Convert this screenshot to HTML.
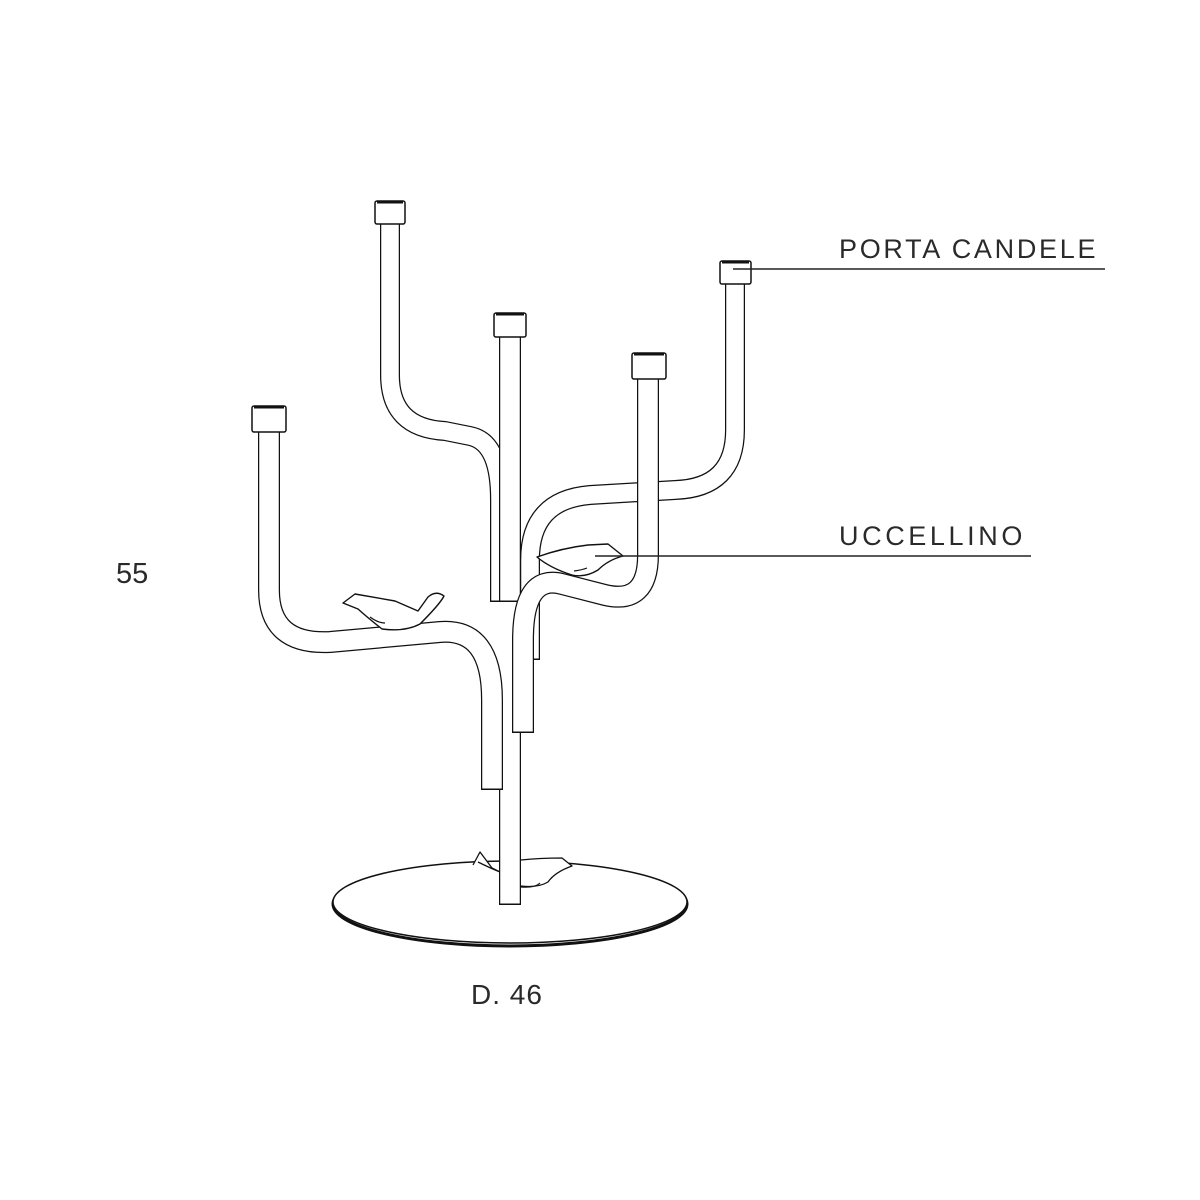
<!DOCTYPE html>
<html><head><meta charset="utf-8"><style>
html,body{margin:0;padding:0;background:#fff;}
svg{display:block;}
text{font-family:"Liberation Sans",sans-serif;fill:#2a2a2a;}
</style></head><body>
<svg width="1200" height="1200" viewBox="0 0 1200 1200" xmlns="http://www.w3.org/2000/svg">
<rect width="1200" height="1200" fill="#fff"/>
<g fill="none" stroke-linecap="butt" stroke-linejoin="round">
<ellipse cx="510" cy="904" rx="177" ry="42" fill="#fff" stroke="#111" stroke-width="3"/>
<ellipse cx="510" cy="902" rx="177" ry="41" fill="#fff" stroke="#111" stroke-width="1.5"/>
<path d="M473,865 L480,852 L492,868 L500,872 M521,860 Q540,858 562,858 L572,866 Q555,872 548,882 Q538,888 521,886 M500,872 Q490,868 478,862" stroke="#111" stroke-width="1.3" fill="#fff"/>
<path d="M521,887 Q535,888 540,883" stroke="#111" stroke-width="1.2"/>
<path d="M510,730 V905" stroke="#111" stroke-width="22"/>
<path d="M510,730 V903.5" stroke="#fff" stroke-width="19.5"/>
<path d="M390,224 V375 Q390,428 445,431 L470,436 Q500,442 500,500 V602" stroke="#111" stroke-width="20"/>
<path d="M390,224 V375 Q390,428 445,431 L470,436 Q500,442 500,500 V600.5" stroke="#fff" stroke-width="17.5"/>
<path d="M510,337 V602" stroke="#111" stroke-width="22"/>
<path d="M510,337 V600.5" stroke="#fff" stroke-width="19.5"/>
<path d="M735,284 V430 Q735,488 675,490 L590,495 Q530,500 530,560 V660" stroke="#111" stroke-width="20"/>
<path d="M735,284 V430 Q735,488 675,490 L590,495 Q530,500 530,560 V658.5" stroke="#fff" stroke-width="17.5"/>
<path d="M648,379 V555 Q648,605 605,595 L562,584 Q523,574 523,640 V733" stroke="#111" stroke-width="22"/>
<path d="M648,379 V555 Q648,605 605,595 L562,584 Q523,574 523,640 V731.5" stroke="#fff" stroke-width="19.5"/>
<path d="M269,432 V590 Q269,645 330,642 L440,632 Q492,628 492,700 V790" stroke="#111" stroke-width="22"/>
<path d="M269,432 V590 Q269,645 330,642 L440,632 Q492,628 492,700 V788.5" stroke="#fff" stroke-width="19.5"/>
<rect x="252" y="406" width="34" height="26" rx="2" fill="#fff" stroke="#111" stroke-width="1.5"/>
<line x1="254" y1="407.5" x2="284" y2="407.5" stroke="#111" stroke-width="2"/>
<rect x="375" y="201" width="30" height="23" rx="2" fill="#fff" stroke="#111" stroke-width="1.5"/>
<line x1="377" y1="202.5" x2="403" y2="202.5" stroke="#111" stroke-width="2"/>
<rect x="494" y="313" width="32" height="24" rx="2" fill="#fff" stroke="#111" stroke-width="1.5"/>
<line x1="496" y1="314.5" x2="524" y2="314.5" stroke="#111" stroke-width="2"/>
<rect x="632" y="353" width="34" height="26" rx="2" fill="#fff" stroke="#111" stroke-width="1.5"/>
<line x1="634" y1="354.5" x2="664" y2="354.5" stroke="#111" stroke-width="2"/>
<rect x="720" y="261" width="31" height="23" rx="2" fill="#fff" stroke="#111" stroke-width="1.5"/>
<line x1="722" y1="262.5" x2="749" y2="262.5" stroke="#111" stroke-width="2"/>
<path d="M343,603 L355,594 L395,601 L418,611 L428,597 Q436,590 444,596 Q440,604 420,624 Q405,632 382,629 Q368,618 358,609 Z" fill="#fff" stroke="#111" stroke-width="1.4"/>
<path d="M370,617 Q378,623 385,623" stroke="#111" stroke-width="1.2"/>
<path d="M537,557 Q562,548 588,545 L608,544 L623,556 Q608,560 598,570 Q585,578 572,575 Q550,568 537,557 Z" fill="#fff" stroke="#111" stroke-width="1.4"/>
<path d="M574,571 Q582,570 587,568" stroke="#111" stroke-width="1.2"/>
<line x1="733" y1="269" x2="1105" y2="269" stroke="#222" stroke-width="1.5"/>
<line x1="595" y1="556" x2="1031" y2="556" stroke="#222" stroke-width="1.5"/>
</g>
<text x="839" y="258" font-size="27" letter-spacing="2.7">PORTA CANDELE</text>
<text x="839" y="545" font-size="27" letter-spacing="3.6">UCCELLINO</text>
<text x="116" y="583" font-size="29">55</text>
<text x="471" y="1004" font-size="28" letter-spacing="1">D. 46</text>
</svg>
</body></html>
